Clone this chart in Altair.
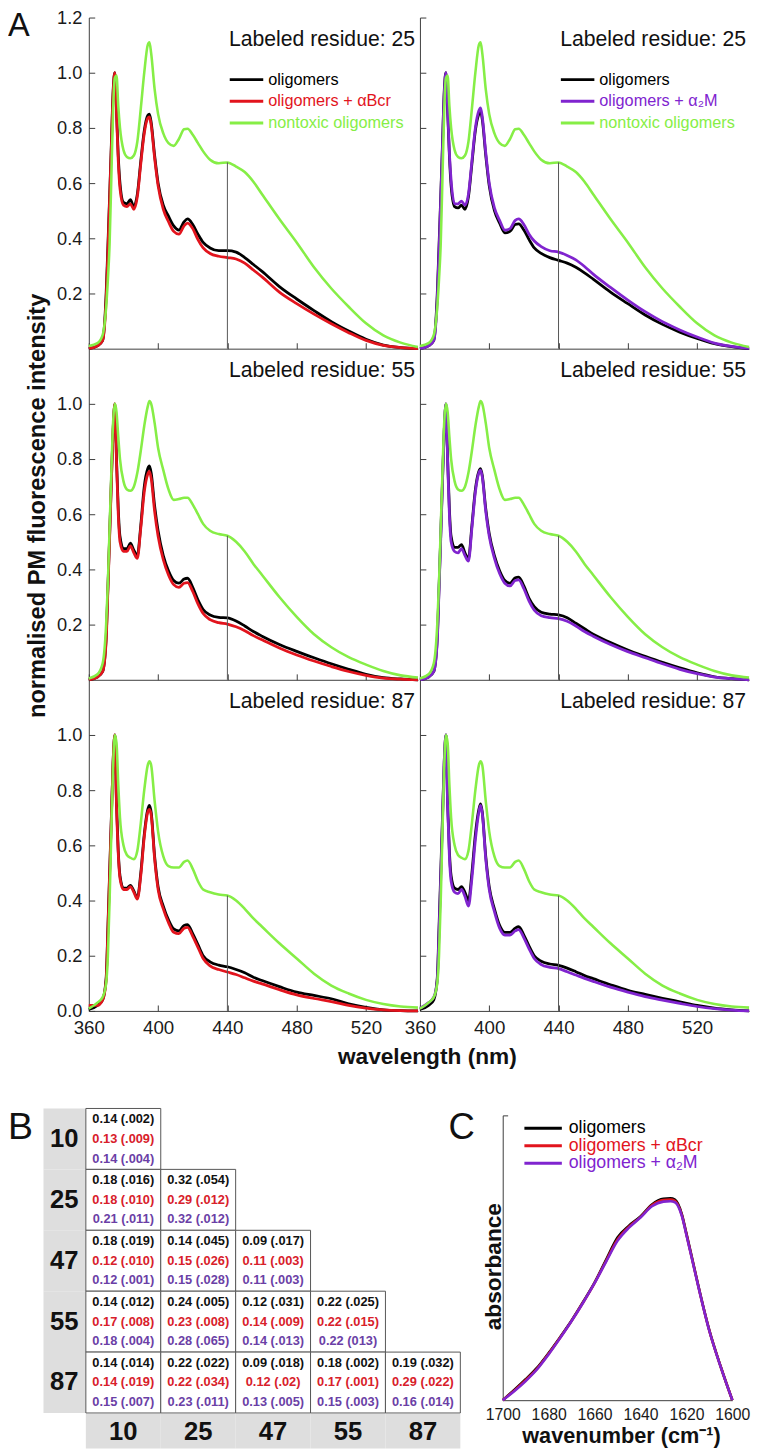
import altair as alt
import pandas as pd

FONT = "Liberation Sans"
AXC = "#3c3c3c"
BLACK = "#000000"
RED = "#e2141d"
PURPLE = "#8024cf"
GREEN = "#86ee46"
TXT_RED = "#d8202a"
TXT_PURPLE = "#6b3fa6"
GRAY_BG = "#dedede"

# ---------------- Panel A : PM fluorescence spectra ----------------
WAVELENGTH = [360, 365, 368, 370, 371, 372, 373, 374, 375, 376,
              377, 378, 380, 382, 384, 386, 388, 390, 392, 394,
              395, 396, 398, 400, 403, 406, 409, 412, 415, 417,
              420, 423, 426, 430, 435, 440, 445, 450, 455, 460,
              470, 480, 490, 500, 510, 520, 530, 540, 550]
X_TICKS = [360, 400, 440, 480, 520]
RESIDUES = ["25", "55", "87"]
Y_TICKS = [[0.2, 0.4, 0.6, 0.8, 1.0, 1.2],
           [0.2, 0.4, 0.6, 0.8, 1.0],
           [0.0, 0.2, 0.4, 0.6, 0.8, 1.0]]

# residue 25
R25_NONTOXIC = [0.01, 0.02, 0.05, 0.15, 0.25, 0.38, 0.62, 0.86, 0.98, 0.99,
                0.88, 0.80, 0.72, 0.695, 0.69, 0.70, 0.75, 0.87, 1.00, 1.10,
                1.11, 1.07, 0.94, 0.85, 0.78, 0.745, 0.735, 0.76, 0.795, 0.797,
                0.775, 0.745, 0.715, 0.685, 0.672, 0.675, 0.66, 0.64, 0.605, 0.56,
                0.47, 0.385, 0.295, 0.218, 0.152, 0.092, 0.048, 0.022, 0.006]
R25_OLIG_L = [0.0, 0.01, 0.03, 0.2, 0.37, 0.55, 0.74, 0.93, 1.0, 0.86,
              0.70, 0.60, 0.53, 0.525, 0.54, 0.515, 0.56, 0.68, 0.79, 0.845,
              0.85, 0.82, 0.70, 0.60, 0.52, 0.48, 0.445, 0.43, 0.46, 0.47,
              0.45, 0.415, 0.385, 0.365, 0.355, 0.355, 0.35, 0.33, 0.305, 0.28,
              0.225, 0.18, 0.138, 0.098, 0.064, 0.034, 0.013, 0.004, 0.0]
R25_ABCR = [0.0, 0.01, 0.03, 0.18, 0.35, 0.54, 0.73, 0.92, 1.0, 0.85,
            0.68, 0.58, 0.52, 0.515, 0.525, 0.505, 0.55, 0.67, 0.78, 0.835,
            0.84, 0.81, 0.69, 0.59, 0.505, 0.46, 0.425, 0.415, 0.445, 0.455,
            0.435, 0.395, 0.365, 0.345, 0.335, 0.33, 0.325, 0.31, 0.285, 0.26,
            0.205, 0.163, 0.125, 0.09, 0.058, 0.03, 0.012, 0.004, 0.0]
R25_OLIG_R = [0.0, 0.01, 0.03, 0.2, 0.37, 0.55, 0.74, 0.93, 1.0, 0.86,
              0.70, 0.59, 0.515, 0.51, 0.52, 0.505, 0.55, 0.67, 0.79, 0.85,
              0.86, 0.83, 0.70, 0.59, 0.50, 0.455, 0.42, 0.425, 0.45, 0.452,
              0.43, 0.395, 0.365, 0.345, 0.33, 0.32, 0.31, 0.295, 0.275, 0.252,
              0.205, 0.163, 0.122, 0.088, 0.06, 0.037, 0.018, 0.007, 0.0]
R25_A2M = [0.0, 0.01, 0.03, 0.18, 0.35, 0.54, 0.73, 0.92, 1.0, 0.87,
           0.71, 0.61, 0.525, 0.525, 0.535, 0.52, 0.56, 0.68, 0.80, 0.862,
           0.873, 0.84, 0.71, 0.60, 0.51, 0.465, 0.43, 0.435, 0.465, 0.47,
           0.45, 0.415, 0.39, 0.37, 0.355, 0.35, 0.338, 0.322, 0.298, 0.27,
           0.222, 0.176, 0.134, 0.098, 0.068, 0.042, 0.02, 0.008, 0.001]

# residue 55
R55_NONTOXIC = [0.005, 0.02, 0.06, 0.2, 0.35, 0.55, 0.75, 0.93, 1.0, 0.97,
                0.88, 0.80, 0.72, 0.69, 0.685, 0.70, 0.75, 0.83, 0.92, 0.99,
                1.01, 1.0, 0.93, 0.84, 0.76, 0.69, 0.652, 0.655, 0.66, 0.66,
                0.635, 0.60, 0.565, 0.54, 0.528, 0.522, 0.50, 0.465, 0.42, 0.38,
                0.30, 0.228, 0.165, 0.118, 0.082, 0.055, 0.032, 0.016, 0.008]
R55_OLIG_L = [0.0, 0.01, 0.03, 0.15, 0.33, 0.52, 0.72, 0.90, 1.0, 0.80,
              0.62, 0.52, 0.475, 0.475, 0.495, 0.47, 0.45, 0.56, 0.70, 0.765,
              0.775, 0.75, 0.63, 0.54, 0.45, 0.395, 0.36, 0.35, 0.365, 0.368,
              0.335, 0.29, 0.255, 0.235, 0.226, 0.224, 0.213, 0.195, 0.175, 0.158,
              0.128, 0.103, 0.08, 0.058, 0.038, 0.02, 0.008, 0.003, 0.0]
R55_ABCR = [0.0, 0.01, 0.03, 0.14, 0.32, 0.51, 0.71, 0.90, 1.0, 0.79,
            0.60, 0.50, 0.465, 0.465, 0.485, 0.46, 0.44, 0.55, 0.68, 0.745,
            0.755, 0.73, 0.61, 0.52, 0.435, 0.38, 0.345, 0.335, 0.35, 0.352,
            0.32, 0.275, 0.24, 0.218, 0.207, 0.202, 0.192, 0.178, 0.16, 0.145,
            0.115, 0.09, 0.068, 0.048, 0.03, 0.016, 0.006, 0.002, 0.0]
R55_OLIG_R = [0.0, 0.01, 0.03, 0.15, 0.33, 0.52, 0.72, 0.90, 1.0, 0.80,
              0.62, 0.52, 0.48, 0.48, 0.49, 0.46, 0.44, 0.56, 0.69, 0.755,
              0.765, 0.74, 0.62, 0.53, 0.45, 0.395, 0.36, 0.35, 0.37, 0.372,
              0.34, 0.295, 0.265, 0.245, 0.238, 0.235, 0.225, 0.205, 0.185, 0.165,
              0.135, 0.108, 0.085, 0.063, 0.043, 0.025, 0.011, 0.004, 0.0]
R55_A2M = [0.0, 0.01, 0.03, 0.14, 0.32, 0.51, 0.71, 0.90, 1.0, 0.79,
           0.60, 0.50, 0.465, 0.46, 0.475, 0.45, 0.43, 0.55, 0.68, 0.75,
           0.76, 0.735, 0.61, 0.52, 0.44, 0.385, 0.35, 0.34, 0.36, 0.362,
           0.33, 0.285, 0.252, 0.232, 0.225, 0.222, 0.212, 0.195, 0.175, 0.158,
           0.128, 0.102, 0.08, 0.058, 0.038, 0.022, 0.01, 0.004, 0.0]

# residue 87
R87_NONTOXIC = [0.008, 0.03, 0.05, 0.10, 0.20, 0.40, 0.65, 0.88, 1.0, 0.97,
                0.82, 0.70, 0.60, 0.565, 0.555, 0.55, 0.58, 0.68, 0.80, 0.89,
                0.905, 0.89, 0.76, 0.65, 0.56, 0.525, 0.52, 0.52, 0.54, 0.545,
                0.515, 0.47, 0.44, 0.43, 0.422, 0.418, 0.40, 0.37, 0.335, 0.305,
                0.245, 0.19, 0.135, 0.092, 0.063, 0.04, 0.025, 0.016, 0.012]
R87_OLIG_L = [0.005, 0.02, 0.04, 0.12, 0.30, 0.50, 0.70, 0.90, 1.0, 0.75,
              0.58, 0.49, 0.445, 0.445, 0.455, 0.435, 0.41, 0.50, 0.64, 0.73,
              0.745, 0.72, 0.56, 0.45, 0.38, 0.33, 0.297, 0.29, 0.31, 0.313,
              0.28, 0.24, 0.20, 0.178, 0.166, 0.16, 0.15, 0.138, 0.122, 0.11,
              0.088, 0.068, 0.056, 0.044, 0.026, 0.013, 0.004, 0.001, 0.0]
R87_ABCR = [0.02, 0.02, 0.04, 0.11, 0.29, 0.49, 0.69, 0.90, 1.0, 0.74,
            0.57, 0.48, 0.44, 0.44, 0.45, 0.43, 0.405, 0.49, 0.63, 0.72,
            0.73, 0.71, 0.55, 0.44, 0.37, 0.32, 0.285, 0.28, 0.30, 0.303,
            0.27, 0.23, 0.19, 0.163, 0.15, 0.141, 0.132, 0.12, 0.108, 0.098,
            0.077, 0.058, 0.045, 0.034, 0.02, 0.01, 0.004, 0.001, 0.0]
R87_OLIG_R = [0.005, 0.02, 0.04, 0.12, 0.30, 0.50, 0.70, 0.90, 1.0, 0.75,
              0.58, 0.49, 0.445, 0.44, 0.45, 0.43, 0.40, 0.50, 0.64, 0.73,
              0.75, 0.72, 0.56, 0.45, 0.37, 0.31, 0.285, 0.285, 0.30, 0.305,
              0.275, 0.235, 0.20, 0.18, 0.17, 0.165, 0.155, 0.142, 0.128, 0.117,
              0.095, 0.075, 0.06, 0.046, 0.033, 0.02, 0.01, 0.004, 0.0]
R87_A2M = [0.01, 0.03, 0.05, 0.11, 0.28, 0.48, 0.68, 0.90, 1.0, 0.74,
           0.56, 0.47, 0.43, 0.425, 0.44, 0.415, 0.38, 0.48, 0.62, 0.72,
           0.745, 0.715, 0.55, 0.44, 0.36, 0.30, 0.275, 0.275, 0.29, 0.295,
           0.265, 0.225, 0.19, 0.168, 0.158, 0.153, 0.142, 0.13, 0.118, 0.107,
           0.086, 0.068, 0.052, 0.039, 0.027, 0.016, 0.008, 0.003, 0.0]

NONTOXIC = [R25_NONTOXIC, R55_NONTOXIC, R87_NONTOXIC]
PANEL_SERIES = [
    [(R25_OLIG_L, R25_ABCR), (R25_OLIG_R, R25_A2M)],
    [(R55_OLIG_L, R55_ABCR), (R55_OLIG_R, R55_A2M)],
    [(R87_OLIG_L, R87_ABCR), (R87_OLIG_R, R87_A2M)],
]
LEGEND_LEFT = ["oligomers", "oligomers + \u03b1Bcr", "nontoxic oligomers"]
LEGEND_RIGHT = ["oligomers", "oligomers + \u03b1\u2082M", "nontoxic  oligomers"]

# ---------------- Panel B : table ----------------
TABLE_KEYS = ["10", "25", "47", "55", "87"]
CELL_ROW = ["10", "25", "25", "47", "47", "47", "55", "55", "55", "55",
            "87", "87", "87", "87", "87"]
CELL_COL = ["10", "10", "25", "10", "25", "47", "10", "25", "47", "55",
            "10", "25", "47", "55", "87"]
OLIG_TXT = ["0.14 (.002)", "0.18 (.016)", "0.32 (.054)", "0.18 (.019)", "0.14 (.045)",
            "0.09 (.017)", "0.14 (.012)", "0.24 (.005)", "0.12 (.031)", "0.22 (.025)",
            "0.14 (.014)", "0.22 (.022)", "0.09 (.018)", "0.18 (.002)", "0.19 (.032)"]
ABCR_TXT = ["0.13 (.009)", "0.18 (.010)", "0.29 (.012)", "0.12 (.010)", "0.15 (.026)",
            "0.11 (.003)", "0.17 (.008)", "0.23 (.008)", "0.14 (.009)", "0.22 (.015)",
            "0.14 (.019)", "0.22 (.034)", "0.12 (.02)", "0.17 (.001)", "0.29 (.022)"]
A2M_TXT = ["0.14 (.004)", "0.21 (.011)", "0.32 (.012)", "0.12 (.001)", "0.15 (.028)",
           "0.11 (.003)", "0.18 (.004)", "0.28 (.065)", "0.14 (.013)", "0.22 (013)",
           "0.15 (.007)", "0.23 (.011)", "0.13 (.005)", "0.15 (.003)", "0.16 (.014)"]

# ---------------- Panel C : FTIR ----------------
WAVENUMBER = [1700, 1695, 1690, 1685, 1680, 1675, 1670, 1665, 1660, 1655, 1650, 1645,
              1640, 1635, 1630, 1627, 1625, 1622, 1620, 1617, 1615, 1610, 1605, 1600]
C_OLIG = [0, 0.05, 0.103, 0.16, 0.232, 0.31, 0.392, 0.483, 0.578, 0.69, 0.8, 0.858,
          0.903, 0.962, 0.99, 0.992, 0.986, 0.915, 0.82, 0.672, 0.572, 0.343, 0.163, 0]
C_ABCR = [0, 0.047, 0.098, 0.155, 0.228, 0.307, 0.39, 0.48, 0.576, 0.684, 0.79, 0.853,
          0.9, 0.958, 0.984, 0.986, 0.98, 0.91, 0.815, 0.668, 0.569, 0.341, 0.162, 0]
C_A2M = [0, 0.044, 0.094, 0.152, 0.225, 0.305, 0.389, 0.479, 0.575, 0.68, 0.783, 0.848,
         0.898, 0.953, 0.976, 0.978, 0.973, 0.906, 0.812, 0.666, 0.568, 0.34, 0.161, 0]
C_TICKS = [1700, 1680, 1660, 1640, 1620, 1600]
C_LEGEND = ["oligomers", "oligomers + \u03b1Bcr", "oligomers + \u03b1\u2082M"]

PW, PH = 334, 336


def guide(**kw):
    base = dict(domainColor=AXC, tickColor=AXC, domainWidth=1, tickWidth=1,
                tickSize={"expr": "-6"}, grid=False, labelFont=FONT,
                labelColor="#1a1a1a", labelFlush=False, titleFont=FONT,
                titleColor="#111111", titleFontWeight="bold")
    base.update(kw)
    return alt.Axis(**base)


def label_chart(text, x, y, size, color="#111111", align="left",
                baseline="middle", weight="normal"):
    return alt.Chart(pd.DataFrame({"t": [text]})).mark_text(
        align=align, baseline=baseline, fontSize=size, font=FONT,
        color=color, fontWeight=weight
    ).encode(text="t:N", x=alt.value(x), y=alt.value(y))


def panel(r, side):
    olig, treated = PANEL_SERIES[r][side]
    nontox = NONTOXIC[r]
    tcolor = RED if side == 0 else PURPLE

    xkw = dict(values=X_TICKS, labels=(r == 2), labelFontSize=19,
               labelPadding=14, title=None)
    if r == 2 and side == 0:
        xkw.update(title="wavelength (nm)", titleFontSize=23, titleX=343,
                   titleY=46, titleBaseline="middle", titleAlign="center")
    ykw = dict(values=Y_TICKS[r] if side == 0 else [v for v in Y_TICKS[r] if v > 0],
               labels=(side == 0), format=".1f", labelFontSize=18.5,
               labelPadding=13, title=None)
    if r == 1 and side == 0:
        ykw.update(title="normalised PM fluorescence intensity", titleFontSize=24,
                   titleX=-52, titleY=PH / 2 - 9, titleAngle=270,
                   titleBaseline="middle", titleAlign="center")
    X = alt.X("wl:Q", scale=alt.Scale(domain=[360, 550], nice=False, zero=False),
              axis=guide(**xkw))
    Y = alt.Y("v:Q", scale=alt.Scale(domain=[0, 1.2], nice=False, zero=False),
              axis=guide(**ykw))

    def line(vals, color, w):
        return alt.Chart(pd.DataFrame({"wl": WAVELENGTH, "v": vals})).mark_line(
            color=color, strokeWidth=w, interpolate="monotone").encode(x=X, y=Y)

    g440 = nontox[WAVELENGTH.index(440)]
    rule = alt.Chart(pd.DataFrame({"wl": [440], "v": [0.0], "v2": [g440]})).mark_rule(
        color="#555555", strokeWidth=1).encode(x=X, y=Y, y2="v2:Q")

    layers = [line(olig, BLACK, 2.8), line(treated, tcolor, 2.8),
              line(nontox, GREEN, 2.6), rule,
              label_chart("Labeled residue: " + RESIDUES[r], 331, 23, 21.5,
                          align="right")]
    if r == 0:
        names = LEGEND_LEFT if side == 0 else LEGEND_RIGHT
        cols = [BLACK, tcolor, GREEN]
        for i, (nm, c) in enumerate(zip(names, cols)):
            yy = 63 + 22 * i
            layers.append(alt.Chart(pd.DataFrame({"t": [nm]})).mark_rule(
                color=c, strokeWidth=3).encode(
                x=alt.value(143), x2=alt.value(177), y=alt.value(yy)))
            layers.append(label_chart(nm, 182, yy, 16.5, color=c))
        if side == 0:
            layers.append(label_chart("A", -82, 19, 33, baseline="alphabetic"))
    return alt.layer(*layers).properties(width=PW, height=PH)


panels = [panel(r, s) for r in range(3) for s in range(2)]
chart_a = alt.concat(*panels, columns=2, spacing={"row": 0, "column": 2},
                     bounds="flush")

# ---------------- B ----------------
TW, TH = 380, 309
cells = pd.DataFrame({"row": CELL_ROW, "col": CELL_COL, "t1": OLIG_TXT,
                      "t2": ABCR_TXT, "t3": A2M_TXT})
keys = pd.DataFrame({"row": TABLE_KEYS, "col": TABLE_KEYS})
xb = alt.X("col:N", scale=alt.Scale(domain=TABLE_KEYS, range=[-3, TW - 3],
                                    paddingInner=0, paddingOuter=0), axis=None)
yb = alt.Y("row:N", scale=alt.Scale(domain=TABLE_KEYS, paddingInner=0, paddingOuter=0),
           axis=None)
gray_col = alt.Chart(keys).mark_rect(fill=GRAY_BG).encode(
    y=yb, x=alt.value(-46), x2=alt.value(-3))
gray_row = alt.Chart(keys).mark_rect(fill=GRAY_BG).encode(
    x=xb, y=alt.value(TH + 1), y2=alt.value(TH + 36))
row_lab = alt.Chart(keys).mark_text(font=FONT, fontSize=26, fontWeight="bold",
                                    color="#111111", baseline="middle").encode(
    y=yb, x=alt.value(-25), text="row:N")
col_lab = alt.Chart(keys).mark_text(font=FONT, fontSize=26, fontWeight="bold",
                                    color="#111111", baseline="middle").encode(
    x=xb, y=alt.value(TH + 19), text="col:N")
rect = alt.Chart(cells).mark_rect(fill="white", stroke="#555555",
                                  strokeWidth=1).encode(x=xb, y=yb)
tl = []
for field, dy, c in [("t1", -20, "#111111"), ("t2", 0, TXT_RED),
                     ("t3", 20, TXT_PURPLE)]:
    tl.append(alt.Chart(cells).mark_text(dy=dy, color=c, font=FONT, fontSize=13,
                                         fontWeight="bold").encode(
        x=xb, y=yb, text=field + ":N"))
chart_b = alt.layer(gray_col, gray_row, row_lab, col_lab, rect, *tl,
                    label_chart("B", -82, 31, 38, baseline="alphabetic")
                    ).properties(width=TW, height=TH)

# ---------------- C ----------------
CH = 296
XC = alt.X("wn:Q", scale=alt.Scale(domain=[1700, 1600], nice=False, zero=False),
           axis=alt.Axis(values=C_TICKS, format="d", domainColor=AXC, domainWidth=1,
                         ticks=False, labelFont=FONT, labelFontSize=16,
                         labelColor="#1a1a1a", labelFlush=False, labelPadding=7,
                         grid=False, title="wavenumber (cm\u207b\u00b9)",
                         titleFont=FONT, titleFontSize=22, titleFontWeight="bold",
                         titleColor="#111111", titleX=120, titleY=36,
                         titleBaseline="middle", titleAlign="center"))
YC = alt.Y("a:Q", scale=alt.Scale(domain=[0, 1.4], range=[CH, 7], nice=False,
                                  zero=False),
           axis=alt.Axis(values=[1.4], labels=False, domainColor=AXC, domainWidth=1,
                         tickColor=AXC, tickSize={"expr": "-5"}, grid=False,
                         title="absorbance", titleFont=FONT, titleFontSize=23,
                         titleFontWeight="bold", titleColor="#111111", titleX=-9,
                         titleY=160, titleAngle=270, titleBaseline="middle",
                         titleAlign="center"))


def cline(vals, color):
    return alt.Chart(pd.DataFrame({"wn": WAVENUMBER, "a": vals})).mark_line(
        color=color, strokeWidth=2.6, interpolate="monotone").encode(x=XC, y=YC)


c_layers = [cline(C_OLIG, BLACK), cline(C_ABCR, RED), cline(C_A2M, PURPLE)]
for i, (nm, c) in enumerate(zip(C_LEGEND, [BLACK, RED, PURPLE])):
    yy = 20 + 17.8 * i
    c_layers.append(alt.Chart(pd.DataFrame({"t": [nm]})).mark_rule(
        color=c, strokeWidth=3).encode(x=alt.value(22), x2=alt.value(60), y=alt.value(yy)))
    c_layers.append(label_chart(nm, 67, yy, 18, color=c))
c_layers.append(label_chart("C", -55, 31, 37, baseline="alphabetic"))
chart_c = alt.layer(*c_layers).properties(width=233, height=CH)

chart_bc = alt.hconcat(chart_b, chart_c, spacing=40, bounds="flush")

chart = alt.vconcat(chart_a, chart_bc, spacing=40).properties(
    padding={"left": 0, "top": -10, "right": 0, "bottom": 0}
).configure_view(stroke="transparent", strokeWidth=0)

chart.save("out.html", embed_options={"renderer": "svg", "actions": False})
